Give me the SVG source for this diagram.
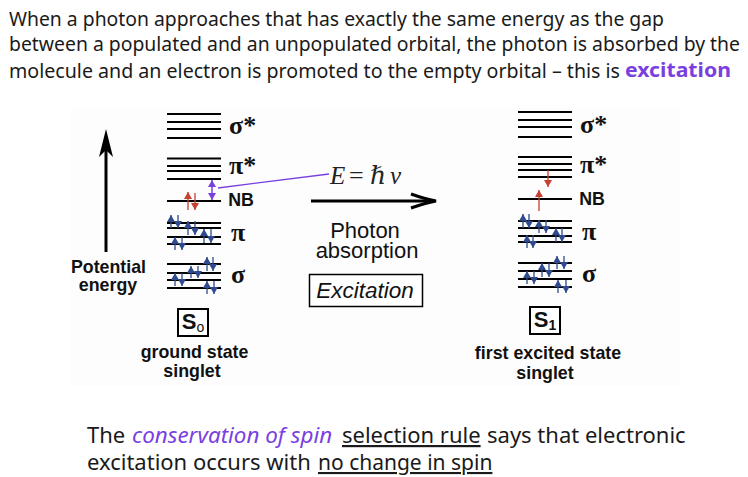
<svg xmlns="http://www.w3.org/2000/svg" width="748" height="477" viewBox="0 0 748 477">
<style>
.head{font:19px "Noto Sans",sans-serif;fill:#1a1a1a}
.foot{font:22px "Noto Sans",sans-serif;fill:#1a1a1a}
.sym{font:bold 26px "Liberation Serif",serif;fill:#111}
.lab{font:bold 17.800px "Liberation Sans",sans-serif;fill:#111;text-anchor:middle}
.big{font:22px "Liberation Sans",sans-serif;fill:#111;text-anchor:middle}
.lv{stroke:#000;stroke-width:2;fill:none}
.blue{stroke:#2f4a8f;stroke-width:1.300;fill:none;marker-end:url(#bh)}
.red{stroke:#c8402f;stroke-width:1.300;fill:none;marker-end:url(#rh)}
</style>
<defs>
<marker id="bh" markerUnits="userSpaceOnUse" markerWidth="8" markerHeight="8" refX="7" refY="4" orient="auto"><path d="M0 0L7 4L0 8z" fill="#2f4a8f"/></marker>
<marker id="rh" markerUnits="userSpaceOnUse" markerWidth="8" markerHeight="8" refX="7" refY="4" orient="auto"><path d="M0 0L7 4L0 8z" fill="#c8402f"/></marker>
<marker id="ph" markerUnits="userSpaceOnUse" markerWidth="8" markerHeight="8" refX="7" refY="4" orient="auto-start-reverse"><path d="M0 0L7 4L0 8z" fill="#7a3fe0"/></marker>
</defs>
<rect width="748" height="477" fill="#fff"/>
<rect x="70" y="108" width="610" height="278" fill="#fdfdfd"/>
<g id="intro">
<text class="head" x="9" y="26" textLength="655" lengthAdjust="spacingAndGlyphs">When a photon approaches that has exactly the same energy as the gap</text>
<text class="head" x="9" y="51" textLength="731" lengthAdjust="spacingAndGlyphs">between a populated and an unpopulated orbital, the photon is absorbed by the</text>
<text class="head" x="9" y="78" textLength="611" lengthAdjust="spacingAndGlyphs">molecule and an electron is promoted to the empty orbital – this is</text>
<text x="625" y="77" font-family="Noto Sans, sans-serif" font-weight="bold" font-size="20" fill="#7a3fe0" textLength="106" lengthAdjust="spacingAndGlyphs">excitation</text>
</g>
<g id="energy-axis">
<path d="M106 252V140" stroke="#000" stroke-width="3" fill="none"/>
<path d="M106 129L113 157L106 150L99 157z" fill="#000"/>
<text class="lab" x="108.500" y="273">Potential</text>
<text class="lab" x="108" y="291">energy</text>
</g>
<g id="ground-state">
<path class="lv" d="M167 114H221M167 122H221M167 129H221M167 138H221M167 158.500H221M167 166H221M167 171H221M167 179H221M167 201H221M167 223H221M167 228H221M167 237H221M167 244H221M167 264H221M167 273H221M167 280H221M167 288H221"/>
<g>
<path class="red" d="M188 210V192"/><path class="red" d="M195 193V210"/>
<path class="blue" d="M171 228V215"/><path class="blue" d="M178 215V228"/>
<path class="blue" d="M188 235V221"/><path class="blue" d="M195 221V235"/>
<path class="blue" d="M204 243V229"/><path class="blue" d="M211 229V243"/>
<path class="blue" d="M175 250V237"/><path class="blue" d="M182 237V250"/>
<path class="blue" d="M175 286V273"/><path class="blue" d="M182 273V286"/>
<path class="blue" d="M191 278V266"/><path class="blue" d="M198 266V278"/>
<path class="blue" d="M207 271V257"/><path class="blue" d="M213 257V271"/>
<path class="blue" d="M207 294V281"/><path class="blue" d="M214 281V294"/>
</g>
<text class="sym" x="229" y="134">σ*</text>
<text class="sym" x="229" y="174">π*</text>
<text class="lab" x="241" y="206">NB</text>
<text class="sym" x="231" y="241">π</text>
<text class="sym" x="231" y="283">σ</text>
<rect x="178" y="309" width="30" height="27" fill="#fff" stroke="#000" stroke-width="2"/>
<text x="193" y="329" text-anchor="middle" font-family="Liberation Sans, sans-serif" font-weight="bold" font-size="22" fill="#111">S<tspan font-size="14" font-weight="normal" dy="3">o</tspan></text>
<text class="lab" x="194.500" y="358">ground state</text>
<text class="lab" x="192" y="377">singlet</text>
</g>
<g id="excited-state">
<path class="lv" d="M518 112H572M518 120H572M518 127H572M518 137H572M518 157H572M518 164H572M518 170H572M518 177H572M518 199H572M518 221H572M518 228H572M518 236H572M518 242H572M518 263H572M518 271H572M518 279H572M518 287H572"/>
<g>
<path class="red" d="M548 170V187"/><path class="red" d="M539 211V190"/>
<path class="blue" d="M523 228V214"/><path class="blue" d="M529 214V228"/>
<path class="blue" d="M539 233V220"/><path class="blue" d="M546 220V233"/>
<path class="blue" d="M556 242V228"/><path class="blue" d="M562 228V242"/>
<path class="blue" d="M527 248V235"/><path class="blue" d="M533 235V248"/>
<path class="blue" d="M527 284V271"/><path class="blue" d="M534 271V284"/>
<path class="blue" d="M542 277V263"/><path class="blue" d="M549 263V277"/>
<path class="blue" d="M557 269V256"/><path class="blue" d="M564 256V269"/>
<path class="blue" d="M558 293V280"/><path class="blue" d="M566 280V293"/>
</g>
<text class="sym" x="580" y="133">σ*</text>
<text class="sym" x="580" y="173">π*</text>
<text class="lab" x="592" y="205">NB</text>
<text class="sym" x="582" y="240">π</text>
<text class="sym" x="582" y="282">σ</text>
<rect x="530" y="307" width="30" height="27" fill="#fff" stroke="#000" stroke-width="2"/>
<text x="545" y="327" text-anchor="middle" font-family="Liberation Sans, sans-serif" font-weight="bold" font-size="22" fill="#111">S<tspan font-size="14" dy="3">1</tspan></text>
<text class="lab" x="548" y="359">first excited state</text>
<text class="lab" x="545" y="379">singlet</text>
</g>
<g id="connectors">
<path d="M212 180V200" stroke="#7a3fe0" stroke-width="1.500" fill="none" marker-start="url(#ph)" marker-end="url(#ph)"/>
<path d="M218 188L329 174" stroke="#7a3fe0" stroke-width="1.300" fill="none"/>
<path d="M311 201H434" stroke="#000" stroke-width="3" fill="none"/>
<path d="M411 194Q425 199 436 201Q425 203 411 208" stroke="#000" stroke-width="3" fill="none"/>
</g>
<g id="photon">
<text x="330" y="184" font-family="Liberation Serif, serif" font-style="italic" font-size="25" fill="#222">E</text>
<text x="349" y="184" font-family="Liberation Serif, serif" font-size="26" fill="#222">=</text>
<text x="370" y="184" font-family="DejaVu Serif, serif" font-style="italic" font-size="25" fill="#222">ℏ</text>
<text x="390" y="184" font-family="Liberation Serif, serif" font-style="italic" font-size="25" fill="#222">ν</text>
<text class="big" x="365" y="238">Photon</text>
<text class="big" x="367" y="258">absorption</text>
<rect x="309.500" y="274.500" width="113" height="32" fill="#fff" stroke="#000" stroke-width="1.500"/>
<text x="365" y="298" text-anchor="middle" font-family="Liberation Sans, sans-serif" font-style="italic" font-size="22.500" fill="#111">Excitation</text>
</g>
<g id="rule">
<text class="foot" x="87" y="443">The<tspan x="132" fill="#7a3fe0" font-style="italic" font-size="22.400">conservation of spin</tspan><tspan x="342" text-decoration="underline">selection rule</tspan><tspan x="487">says that electronic</tspan></text>
<text class="foot" x="87" y="470">excitation occurs with<tspan x="318" text-decoration="underline" font-size="21">no change in spin</tspan></text>
</g>
</svg>
